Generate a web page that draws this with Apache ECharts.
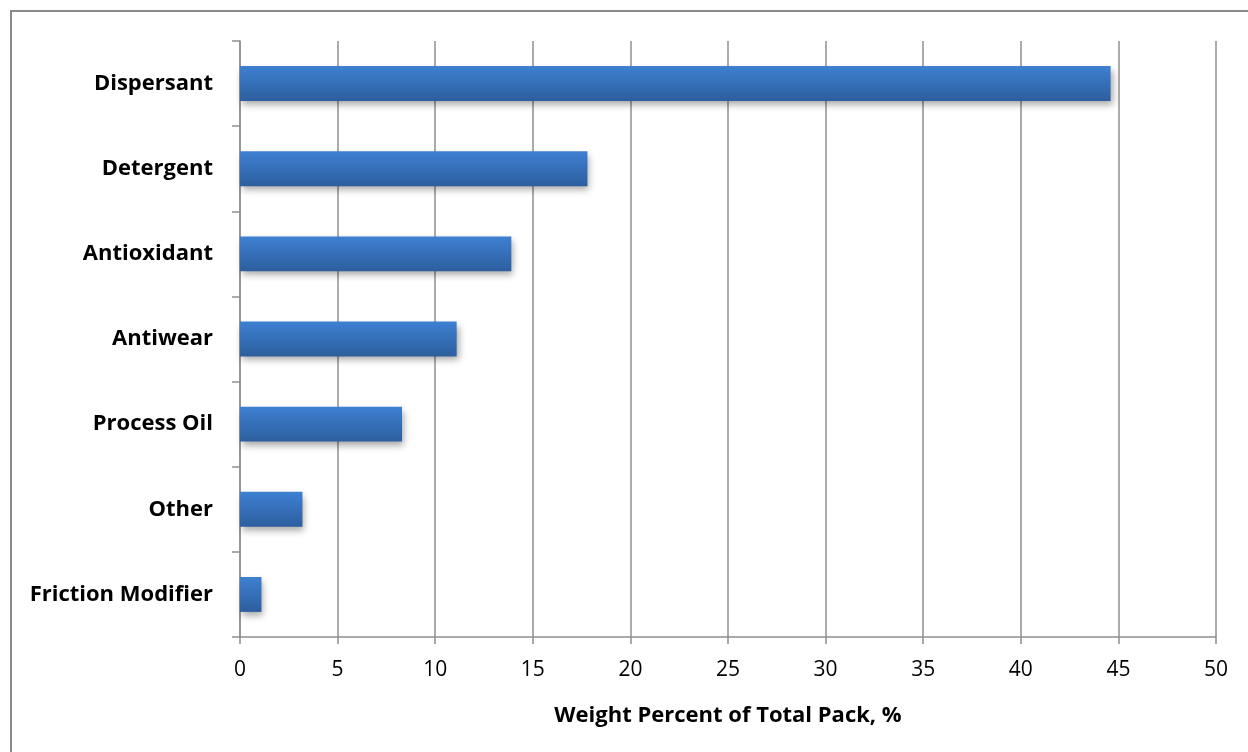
<!DOCTYPE html>
<html>
<head>
<meta charset="utf-8">
<script src="https://cdn.jsdelivr.net/npm/echarts@6/dist/echarts.min.js"></script>
<style>
  html, body { margin: 0; padding: 0; background: #fff; }
  #chart { width: 1248px; height: 752px; }
</style>
</head>
<body>
<div id="chart"></div>
<script>
// Additive pack composition, top to bottom
const components = ['Dispersant', 'Detergent', 'Antioxidant', 'Antiwear', 'Process Oil', 'Other', 'Friction Modifier'];
const weightPercent = [44.6, 17.8, 13.9, 11.1, 8.3, 3.2, 1.1];
const axisTitle = 'Weight Percent of Total Pack, %';

const FONT = '"Open Sans", Lato, sans-serif';
const GRID_GRAY = '#8f8f8f';

const chart = echarts.init(document.getElementById('chart'), null, { renderer: 'canvas' });

chart.setOption({
  backgroundColor: '#fff',
  animation: false,
  graphic: [{
    type: 'rect',
    shape: { x: 11, y: 11, width: 1260, height: 760 },
    style: { fill: 'none', stroke: '#8a8a8a', lineWidth: 2 },
    silent: true,
    z: -10
  }],
  grid: { left: 240, right: 32, top: 41, bottom: 115 },
  xAxis: {
    type: 'value',
    min: 0,
    max: 50,
    interval: 5,
    name: axisTitle,
    nameLocation: 'middle',
    nameGap: 68,
    nameTextStyle: { fontFamily: FONT, fontWeight: 'bold', fontSize: 22, color: '#000' },
    axisLine: { show: true, lineStyle: { color: GRID_GRAY, width: 1.5 } },
    axisTick: { show: true, length: 7, lineStyle: { color: GRID_GRAY, width: 1.5 } },
    axisLabel: { fontFamily: FONT, fontSize: 21, color: '#000', margin: 23 },
    splitLine: { show: true, lineStyle: { color: GRID_GRAY, width: 1.5 } }
  },
  yAxis: {
    type: 'category',
    data: components,
    inverse: true,
    axisLine: { show: true, lineStyle: { color: GRID_GRAY, width: 1.5 } },
    axisTick: { show: true, length: 8, lineStyle: { color: GRID_GRAY, width: 1.5 } },
    axisLabel: { fontFamily: FONT, fontWeight: 'bold', fontSize: 22, color: '#000', margin: 27 },
    splitLine: { show: false }
  },
  series: [{
    type: 'bar',
    data: weightPercent,
    barCategoryGap: '59%',
    itemStyle: {
      color: new echarts.graphic.LinearGradient(0, 0, 0, 1, [
        { offset: 0, color: '#3e80d2' },
        { offset: 1, color: '#2d5e9e' }
      ]),
      shadowColor: 'rgba(0,0,0,0.35)',
      shadowBlur: 7,
      shadowOffsetX: 2,
      shadowOffsetY: 4
    }
  }]
});
</script>
</body>
</html>
